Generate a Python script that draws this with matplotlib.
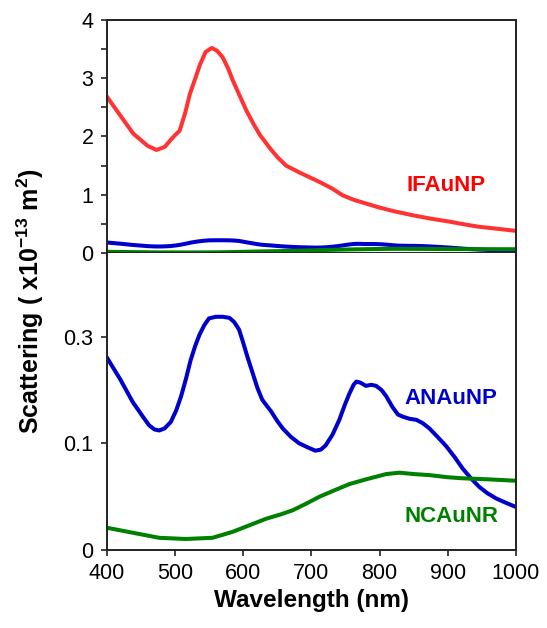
import matplotlib
matplotlib.use("Agg")
import matplotlib.pyplot as plt
from matplotlib.ticker import MultipleLocator

plt.rcParams['font.family'] = ['Liberation Sans', 'DejaVu Sans']
plt.rcParams['mathtext.fontset'] = 'custom'
plt.rcParams['mathtext.rm'] = 'Liberation Sans'
plt.rcParams['mathtext.bf'] = 'Liberation Sans:bold'
plt.rcParams['lines.solid_joinstyle'] = 'round'
plt.rcParams['lines.solid_capstyle'] = 'round'

# IFAuNP (red), only visible in the upper panel
wl_if = [400, 420, 439, 460, 473, 485, 493, 500, 507, 515, 522, 530, 537, 545, 554,
         562, 570, 578, 585, 595, 605, 615, 625, 640, 650, 663, 683, 712, 730, 746,
         763, 780, 797, 820, 848, 875, 902, 925, 946, 970, 1000]
if_vals = [2.69, 2.36, 2.05, 1.84, 1.77, 1.82, 1.93, 2.02, 2.10, 2.40, 2.73, 3.00, 3.24,
           3.45, 3.52, 3.47, 3.36, 3.17, 2.96, 2.70, 2.44, 2.22, 2.02, 1.79, 1.65, 1.50,
           1.38, 1.22, 1.11, 0.99, 0.91, 0.85, 0.79, 0.72, 0.65, 0.59, 0.54, 0.49, 0.45,
           0.42, 0.38]

# ANAuNP (blue)
wl_an = [400, 420, 438, 452, 462, 470, 477, 485, 494, 502, 509, 516, 523, 530, 536,
         543, 550, 560, 570, 580, 587, 594, 599, 606, 614, 621, 628, 635, 641, 650,
         658, 670, 682, 695, 706, 714, 721, 731, 741, 749, 756, 762, 766, 772, 780,
         788, 795, 803, 810, 819, 827, 834, 844, 854, 863, 873, 885, 898, 910, 922,
         934, 946, 958, 971, 985, 1000]
an_vals = [0.181, 0.160, 0.139, 0.126, 0.117, 0.113, 0.112, 0.114, 0.120, 0.131, 0.144,
           0.160, 0.178, 0.192, 0.202, 0.211, 0.2175, 0.219, 0.219, 0.218, 0.214, 0.207,
           0.197, 0.182, 0.166, 0.152, 0.141, 0.135, 0.130, 0.121, 0.114, 0.106, 0.100,
           0.096, 0.093, 0.094, 0.098, 0.108, 0.122, 0.136, 0.147, 0.155, 0.158, 0.157,
           0.154, 0.155, 0.154, 0.150, 0.144, 0.134, 0.127, 0.125, 0.123, 0.122, 0.119,
           0.114, 0.106, 0.097, 0.087, 0.076, 0.067, 0.059, 0.053, 0.048, 0.044, 0.040]

# NCAuNR (green)
wl_nc = [400, 438, 477, 516, 555, 585, 610, 634, 655, 673, 692, 712, 735, 756, 780,
         810, 829, 850, 873, 900, 922, 960, 1000]
nc_vals = [0.0205, 0.0158, 0.011, 0.0099, 0.011, 0.0167, 0.023, 0.029, 0.033, 0.037,
           0.043, 0.0497, 0.056, 0.0616, 0.066, 0.071, 0.0723, 0.071, 0.070, 0.068,
           0.067, 0.066, 0.0647]

x_ticks = [400, 500, 600, 700, 800, 900, 1000]
top_yticks = [0, 1, 2, 3, 4]
bot_yticks = [0, 0.1, 0.2]
bot_ylabels = ['0', '0.1', '0.3']

red = '#ff3333'
blue = '#0000cc'
green = '#008000'
lw = 2.9

fig = plt.figure(figsize=(5.47, 6.28), dpi=100)
ax1 = fig.add_axes([0.195, 0.5971, 0.7483, 0.3711])
ax2 = fig.add_axes([0.195, 0.125, 0.7483, 0.4721])

# upper panel
ax1.plot(wl_if, if_vals, color=red, lw=lw)
ax1.plot(wl_an, an_vals, color=blue, lw=lw)
ax1.plot(wl_nc, nc_vals, color=green, lw=lw)
ax1.set_xlim(400, 1000)
ax1.set_ylim(0, 4)
ax1.set_xticks(x_ticks)
ax1.set_xticklabels([])
ax1.set_yticks(top_yticks)
ax1.yaxis.set_minor_locator(MultipleLocator(0.5))
ax1.text(897, 1.16, 'IFAuNP', color='#ff0000', fontsize=16, fontweight='bold',
         ha='center', va='center')

# lower panel
ax2.plot(wl_an, an_vals, color=blue, lw=lw)
ax2.plot(wl_nc, nc_vals, color=green, lw=lw)
ax2.set_xlim(400, 1000)
ax2.set_ylim(0, 0.279)
ax2.set_xticks(x_ticks)
ax2.set_yticks(bot_yticks)
ax2.set_yticklabels(bot_ylabels)
ax2.spines['top'].set_visible(False)
ax2.text(905, 0.1425, 'ANAuNP', color=blue, fontsize=16, fontweight='bold',
         ha='center', va='center')
ax2.text(905, 0.031, 'NCAuNR', color=green, fontsize=16, fontweight='bold',
         ha='center', va='center')
ax2.set_xlabel('Wavelength (nm)', fontsize=17.5, fontweight='bold', labelpad=4)

for ax in (ax1, ax2):
    for s in ax.spines.values():
        s.set_linewidth(1.4)
        s.set_color('#222222')
    ax.tick_params(which='both', direction='out', length=4.5, width=1.2,
                   labelsize=15.5, pad=5, color='#222222')

fig.text(30 / 547, 1 - 301.5 / 628,
         r'Scattering ( x10$^{\mathbf{-13}}$ m$^{\mathbf{2}}$)',
         rotation=90, ha='center', va='center', fontsize=18, fontweight='bold')

fig.savefig('out.png', dpi=100)
